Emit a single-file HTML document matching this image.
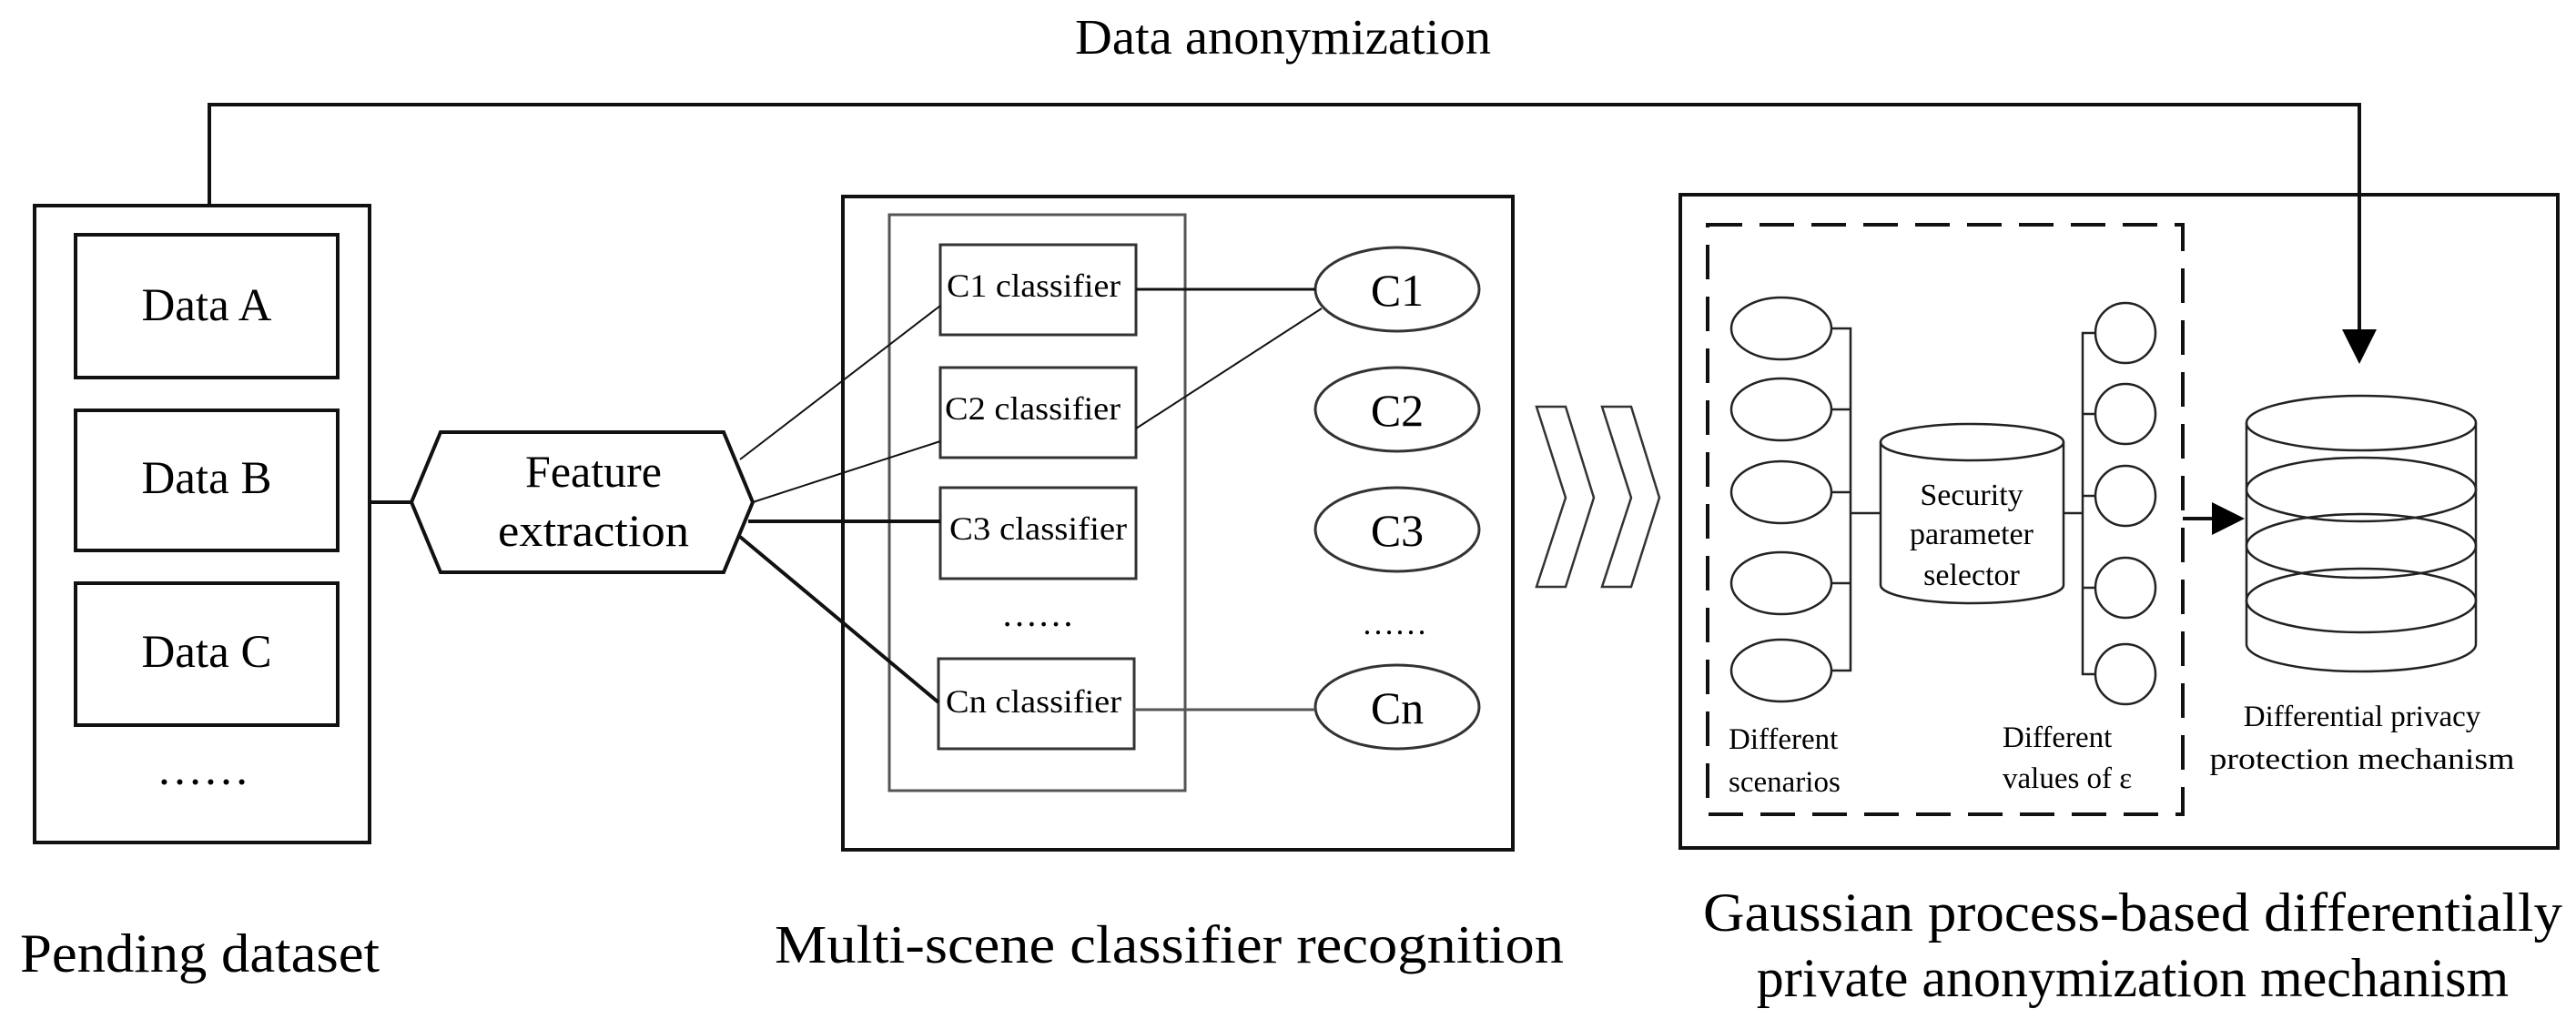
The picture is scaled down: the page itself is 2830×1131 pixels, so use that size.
<!DOCTYPE html>
<html><head><meta charset="utf-8"><style>
html,body{margin:0;padding:0;background:#fff;}
svg{display:block;}
text{font-family:"Liberation Serif",serif;fill:#000;}
</style></head><body>
<svg width="2830" height="1131" viewBox="0 0 2830 1131" xmlns="http://www.w3.org/2000/svg">
<g fill="none" stroke="#111">
<!-- top connector -->
<polyline points="230,226 230,115 2592,115 2592,365" stroke-width="4"/>
<polygon points="2573,362 2611,362 2592,400" fill="#000" stroke="none"/>
<!-- left box -->
<rect x="38" y="226" width="368" height="700" stroke-width="4"/>
<rect x="83" y="258" width="288" height="157" stroke-width="4"/>
<rect x="83" y="451" width="288" height="154" stroke-width="4"/>
<rect x="83" y="641" width="288" height="156" stroke-width="4"/>
<line x1="406" y1="552" x2="452" y2="552" stroke-width="4"/>
<polygon points="452,552 484,475 795,475 827,552 795,629 484,629" stroke-width="4"/>
<!-- middle box -->
<rect x="926" y="216" width="736" height="718" stroke-width="4"/>
<rect x="977" y="236" width="325" height="633" stroke="#555" stroke-width="3"/>
<rect x="1033" y="269" width="215" height="99" stroke="#333" stroke-width="3"/>
<rect x="1033" y="404" width="215" height="99" stroke="#333" stroke-width="3"/>
<rect x="1033" y="536" width="215" height="100" stroke="#333" stroke-width="3"/>
<rect x="1031" y="724" width="215" height="99" stroke="#333" stroke-width="3"/>
<ellipse cx="1535" cy="318" rx="90" ry="46" stroke="#333" stroke-width="3"/>
<ellipse cx="1535" cy="450" rx="90" ry="46" stroke="#333" stroke-width="3"/>
<ellipse cx="1535" cy="582" rx="90" ry="46" stroke="#333" stroke-width="3"/>
<ellipse cx="1535" cy="777" rx="90" ry="46" stroke="#333" stroke-width="3"/>
<line x1="813" y1="505" x2="1033" y2="336" stroke-width="2"/>
<line x1="827" y1="552" x2="1033" y2="485" stroke-width="2"/>
<line x1="822" y1="573" x2="1033" y2="573" stroke-width="4"/>
<line x1="813" y1="590" x2="1031" y2="772" stroke-width="4"/>
<line x1="1248" y1="318" x2="1445" y2="318" stroke-width="3"/>
<line x1="1248" y1="471" x2="1452" y2="339" stroke-width="2"/>
<line x1="1246" y1="780" x2="1445" y2="780" stroke="#555" stroke-width="3"/>
<!-- chevrons -->
<polygon points="1688,447 1720,447 1751,547 1720,645 1688,645 1720,547" stroke="#333" stroke-width="2.5"/>
<polygon points="1760,447 1792,447 1823,547 1792,645 1760,645 1792,547" stroke="#333" stroke-width="2.5"/>
<!-- right box -->
<rect x="1846" y="214" width="964" height="718" stroke-width="4"/>
<rect x="1876" y="247" width="522" height="648" stroke-width="4" stroke-dasharray="38 19"/>
<g stroke="#222" stroke-width="2.5">
<ellipse cx="1957" cy="361" rx="55" ry="34"/>
<ellipse cx="1957" cy="450" rx="55" ry="34"/>
<ellipse cx="1957" cy="541" rx="55" ry="34"/>
<ellipse cx="1957" cy="641" rx="55" ry="34"/>
<ellipse cx="1957" cy="737" rx="55" ry="34"/>
<polyline points="2012,361 2033,361 2033,737 2012,737"/>
<line x1="2012" y1="450" x2="2033" y2="450"/>
<line x1="2012" y1="541" x2="2033" y2="541"/>
<line x1="2012" y1="641" x2="2033" y2="641"/>
<line x1="2033" y1="564" x2="2066" y2="564"/>
<path d="M2066,486 L2066,643 A100.5,20 0 0 0 2267,643 L2267,486"/>
<ellipse cx="2166.5" cy="486" rx="100.5" ry="20"/>
<line x1="2267" y1="564" x2="2288" y2="564"/>
<polyline points="2303,366 2288,366 2288,741 2303,741"/>
<line x1="2288" y1="455" x2="2303" y2="455"/>
<line x1="2288" y1="545" x2="2303" y2="545"/>
<line x1="2288" y1="646" x2="2303" y2="646"/>
<circle cx="2335" cy="366" r="33"/>
<circle cx="2335" cy="455" r="33"/>
<circle cx="2335" cy="545" r="33"/>
<circle cx="2335" cy="646" r="33"/>
<circle cx="2335" cy="741" r="33"/>
<path d="M2468,465 L2468,708 A126,30 0 0 0 2720,708 L2720,465"/>
<ellipse cx="2594" cy="465" rx="126" ry="30"/>
<ellipse cx="2594" cy="538" rx="126" ry="35"/>
<ellipse cx="2594" cy="600" rx="126" ry="35"/>
<ellipse cx="2594" cy="660" rx="126" ry="35"/>
</g>
<line x1="2398" y1="570" x2="2432" y2="570" stroke-width="4"/>
<polygon points="2430,552 2466,570 2430,588" fill="#000" stroke="none"/>
</g>
<!-- text -->
<text x="1181" y="59" font-size="55" textLength="457" lengthAdjust="spacingAndGlyphs">Data anonymization</text>
<text x="227" y="352" font-size="51" text-anchor="middle">Data A</text>
<text x="227" y="542" font-size="51" text-anchor="middle">Data B</text>
<text x="227" y="733" font-size="51" text-anchor="middle">Data C</text>
<text x="223" y="862" font-size="51" text-anchor="middle">……</text>
<text x="652" y="535" font-size="50" text-anchor="middle">Feature</text>
<text x="652" y="600" font-size="50" text-anchor="middle" textLength="210" lengthAdjust="spacingAndGlyphs">extraction</text>
<text x="1040" y="326" font-size="36" textLength="191" lengthAdjust="spacingAndGlyphs">C1 classifier</text>
<text x="1038" y="461" font-size="36" textLength="193" lengthAdjust="spacingAndGlyphs">C2 classifier</text>
<text x="1043" y="593" font-size="36" textLength="195" lengthAdjust="spacingAndGlyphs">C3 classifier</text>
<text x="1140" y="688" font-size="40" text-anchor="middle">……</text>
<text x="1039" y="783" font-size="36" textLength="193" lengthAdjust="spacingAndGlyphs">Cn classifier</text>
<text x="1535" y="336" font-size="50" text-anchor="middle">C1</text>
<text x="1535" y="468" font-size="50" text-anchor="middle">C2</text>
<text x="1535" y="600" font-size="50" text-anchor="middle">C3</text>
<text x="1532" y="697" font-size="36" text-anchor="middle">……</text>
<text x="1535" y="795" font-size="50" text-anchor="middle">Cn</text>
<text x="2166" y="555" font-size="34" text-anchor="middle">Security</text>
<text x="2166" y="598" font-size="34" text-anchor="middle">parameter</text>
<text x="2166" y="643" font-size="34" text-anchor="middle">selector</text>
<text x="1899" y="823" font-size="33">Different</text>
<text x="1899" y="870" font-size="33">scenarios</text>
<text x="2200" y="821" font-size="33">Different</text>
<text x="2200" y="866" font-size="33">values of ε</text>
<text x="2595" y="798" font-size="33" text-anchor="middle">Differential privacy</text>
<text x="2595" y="845" font-size="33" text-anchor="middle" textLength="335" lengthAdjust="spacingAndGlyphs">protection mechanism</text>
<text x="22" y="1068" font-size="60" textLength="395" lengthAdjust="spacingAndGlyphs">Pending dataset</text>
<text x="851" y="1058" font-size="59" textLength="867" lengthAdjust="spacingAndGlyphs">Multi-scene classifier  recognition</text>
<text x="1871" y="1023" font-size="60" textLength="944" lengthAdjust="spacingAndGlyphs">Gaussian process-based differentially</text>
<text x="2343" y="1095" font-size="60" text-anchor="middle">private anonymization mechanism</text>
</svg>
</body></html>
